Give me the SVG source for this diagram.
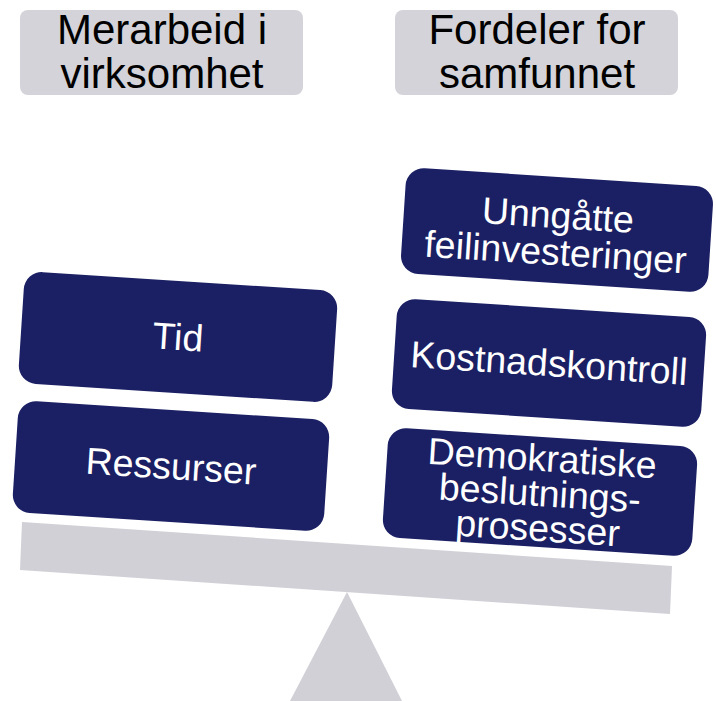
<svg xmlns="http://www.w3.org/2000/svg" width="716" height="701" viewBox="0 0 716 701">
<style>
.hdr{fill:#d3d3d9}
.hdrt{font-family:"Liberation Sans",Arial,sans-serif;font-size:42px;fill:#000;text-anchor:middle}
.box{fill:#1b1f63}
.bt{font-family:"Liberation Sans",Arial,sans-serif;font-size:37.5px;fill:#fff;text-anchor:middle}
.gray{fill:#d0d0d6}
</style>
<rect width="716" height="701" fill="#fff"/>
<g id="scale">
<polygon class="gray" points="347,592 290,701 402,701"/>
<polygon class="gray" points="22,522 672,566 670,614 20,570"/>
</g>
<g id="hdr-left">
<rect class="hdr" x="20" y="10" width="283" height="85" rx="8"/>
<text class="hdrt" x="162" y="44">Merarbeid i</text>
<text class="hdrt" x="162" y="88">virksomhet</text>
</g>
<g id="hdr-right">
<rect class="hdr" x="395" y="10" width="283" height="85" rx="8"/>
<text class="hdrt" x="537" y="44">Fordeler for</text>
<text class="hdrt" x="537" y="88">samfunnet</text>
</g>
<g id="tid" transform="translate(178,337) rotate(3.7)">
<rect class="box" x="-157" y="-56" width="314" height="112" rx="18"/>
<text class="bt" x="0" y="13">Tid</text>
</g>
<g id="ressurser" transform="translate(171,466) rotate(3.7)">
<rect class="box" x="-156" y="-56" width="312" height="112" rx="18"/>
<text class="bt" x="0" y="13">Ressurser</text>
</g>
<g id="unngatte" transform="translate(557,230) rotate(3.7)">
<rect class="box" x="-154" y="-53" width="308" height="106" rx="18"/>
<text class="bt" x="0" y="-2">Unngåtte</text>
<text class="bt" x="0" y="35">feilinvesteringer</text>
</g>
<g id="kostnad" transform="translate(549,363) rotate(3.7)">
<rect class="box" x="-155" y="-55" width="310" height="110" rx="18"/>
<text class="bt" x="0" y="13">Kostnadskontroll</text>
</g>
<g id="demokrat" transform="translate(540,492) rotate(3.7)">
<rect class="box" x="-155" y="-55" width="310" height="110" rx="18"/>
<text class="bt" x="0" y="-21">Demokratiske</text>
<text class="bt" x="0" y="14">beslutnings-</text>
<text class="bt" x="0" y="49">prosesser</text>
</g>
</svg>
